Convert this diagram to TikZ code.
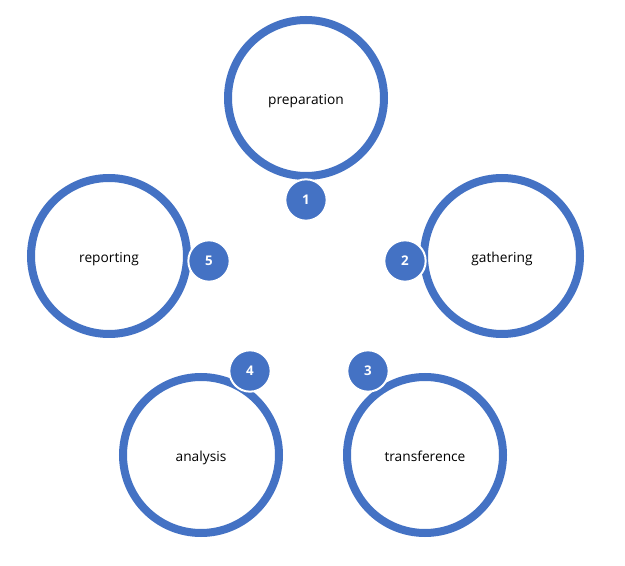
\documentclass[tikz,border=0pt]{standalone}
\usepackage{fontspec}
\setmainfont{Open Sans}
\usepackage{tikz}
\usepackage{xcolor}
\usetikzlibrary{positioning}
\definecolor{officeblue}{HTML}{4472C4}

\begin{document}
\begin{tikzpicture}[x=0.75pt, y=-0.75pt,
    stage/.style={circle, draw=officeblue, line width=6pt, fill=white, minimum size=117pt, inner sep=0pt, text height=2.1ex, text depth=.2ex, font=\fontsize{10.3}{12}\selectfont, text=black},
    badge/.style={circle, draw=white, line width=1.5pt, fill=officeblue, minimum size=31pt, inner sep=0pt, font=\fontsize{10}{12}\selectfont\bfseries, text=white}]
    \useasboundingbox (0, 0) rectangle (625, 566);
    \node[stage] (prep) at (306, 98) {preparation};
    \node[stage] (gath) at (502, 256) {gathering};
    \node[stage] (trans) at (425, 455) {transference};
    \node[stage] (anal) at (201, 455) {analysis};
    \node[stage] (rep) at (109, 256) {reporting};
    \node[badge] (one) at (306, 200) {1};
    \node[badge] (two) at (405, 261) {2};
    \node[badge] (three) at (368, 371) {3};
    \node[badge] (four) at (250, 371) {4};
    \node[badge] (five) at (209, 261) {5};
\end{tikzpicture}
\end{document}
